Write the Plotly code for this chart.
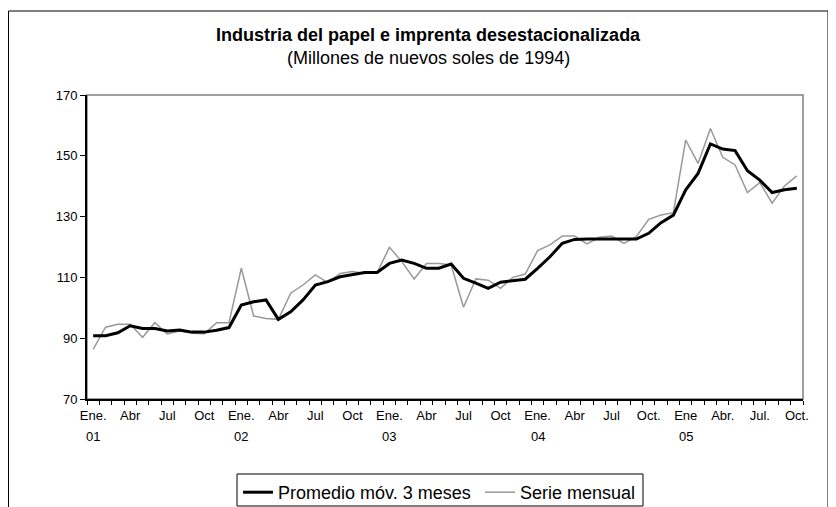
import plotly.graph_objects as go

# Months Jan 2001 .. Oct 2005 (58 months)
month_idx = list(range(58))

serie_mensual = [86.3, 93.6, 94.6, 94.6, 90.3, 95.1, 91.4, 92.4, 91.6, 91.5, 95.1, 95.1,
                 113.0, 97.3, 96.5, 96.2, 104.8, 107.5, 110.8, 108.3, 111.3, 111.9, 111.3, 111.6,
                 119.9, 115.2, 109.5, 114.6, 114.6, 114.1, 100.2, 109.5, 109.1, 106.4, 110.0, 111.1,
                 118.8, 120.7, 123.6, 123.6, 121.0, 123.2, 123.6, 121.2, 123.4, 129.1, 130.5, 131.3,
                 155.2, 147.5, 159.0, 149.5, 147.0, 137.9, 141.2, 134.4, 140.1, 143.4]

promedio_movil = [90.8, 90.8, 91.8, 94.1, 93.2, 93.2, 92.4, 92.7, 92.0, 92.0, 92.6, 93.5,
                  100.9, 102.0, 102.6, 96.2, 98.7, 102.6, 107.5, 108.6, 110.2, 110.8, 111.6, 111.6,
                  114.6, 115.7, 114.6, 113.0, 113.0, 114.4, 109.7, 108.1, 106.4, 108.4, 108.8, 109.4,
                  113.0, 116.8, 121.2, 122.5, 122.6, 122.6, 122.6, 122.6, 122.6, 124.5, 128.0, 130.5,
                  138.8, 144.2, 153.9, 152.2, 151.7, 145.1, 142.0, 137.9, 138.8, 139.3]

tick_positions = list(range(0, 58, 3))
tick_labels = ["Ene.", "Abr", "Jul", "Oct", "Ene.", "Abr", "Jul", "Oct", "Ene.", "Abr",
               "Jul", "Oct", "Ene.", "Abr", "Jul", "Oct.", "Ene", "Abr.", "Jul.", "Oct."]
year_positions = [0, 12, 24, 36, 48]
year_labels = ["01", "02", "03", "04", "05"]

FONT = "Liberation Sans, Arial, sans-serif"

fig = go.Figure()
fig.add_trace(go.Scatter(x=month_idx, y=serie_mensual, mode="lines", name="Serie mensual",
                         line=dict(color="#999999", width=1.5), legend="legend2"))
fig.add_trace(go.Scatter(x=month_idx, y=promedio_movil, mode="lines", name="Promedio móv. 3 meses",
                         line=dict(color="#000000", width=3), legend="legend"))

OFF = 8  # page body margin
W, H = 836 - OFF, 507 - OFF
L, R, T, B = 87 - OFF, 803 - OFF, 95 - OFF, 399 - OFF
pw, ph = R - L, B - T

def px(xp):  # page x -> paper
    return (xp - OFF - L) / pw

def py(yp):  # page y -> paper
    return (B - (yp - OFF)) / ph

annotations = [
    dict(text="<b>Industria del papel e imprenta desestacionalizada</b>", x=px(428), y=py(35),
         xref="paper", yref="paper", showarrow=False, font=dict(size=18, color="black", family=FONT),
         xanchor="center", yanchor="middle"),
    dict(text="(Millones de nuevos soles de 1994)", x=px(428), y=py(58),
         xref="paper", yref="paper", showarrow=False, font=dict(size=18, color="black", family=FONT),
         xanchor="center", yanchor="middle"),
]
for pos, lab in zip(year_positions, year_labels):
    annotations.append(dict(text=lab, x=pos, y=py(436), xref="x", yref="paper", showarrow=False,
                            font=dict(size=13, color="black", family=FONT),
                            xanchor="center", yanchor="middle"))

shapes = [
    dict(type="rect", xref="paper", yref="paper", x0=0, x1=1, y0=0, y1=1,
         line=dict(color="#808080", width=1.5), layer="below"),
    dict(type="rect", xref="paper", yref="paper", x0=px(8.5), x1=px(828), y0=py(560), y1=py(11),
         line=dict(color="black", width=1), layer="below"),
    # legend frame
    dict(type="rect", xref="paper", yref="paper", x0=px(237), x1=px(643), y0=py(506), y1=py(474),
         line=dict(color="black", width=1), fillcolor="white", layer="below"),
]

leg_common = dict(orientation="h", yanchor="top", xanchor="left", y=py(474),
                  borderwidth=0, bgcolor="rgba(0,0,0,0)",
                  font=dict(size=18, family=FONT, color="black"), itemwidth=30)

fig.update_layout(
    width=W, height=H,
    margin=dict(l=L, r=W - R, t=T, b=H - B, autoexpand=False),
    paper_bgcolor="white", plot_bgcolor="white",
    font=dict(family=FONT, size=13, color="black"),
    showlegend=True,
    legend=dict(x=px(238), **leg_common),
    legend2=dict(x=px(480), **leg_common),
    annotations=annotations,
    shapes=shapes,
)

fig.update_xaxes(
    range=[-0.5, 57.5], tickmode="array", tickvals=tick_positions, ticktext=tick_labels,
    ticks="", showgrid=False, zeroline=False, ticklabelstandoff=4,
    showline=True, linecolor="black", linewidth=1.5,
    tickfont=dict(size=13, family=FONT, color="black"),
    minor=dict(tickmode="linear", tick0=-0.5, dtick=1, ticks="outside", ticklen=4,
               tickcolor="black", tickwidth=1, showgrid=False),
)
fig.update_yaxes(
    range=[70, 170], tickmode="linear", tick0=70, dtick=20,
    ticks="outside", ticklen=5, tickcolor="black", tickwidth=1,
    showgrid=False, zeroline=False,
    showline=True, linecolor="black", linewidth=2,
    tickfont=dict(size=13, family=FONT, color="black"),
)

fig.write_html("out.html")
